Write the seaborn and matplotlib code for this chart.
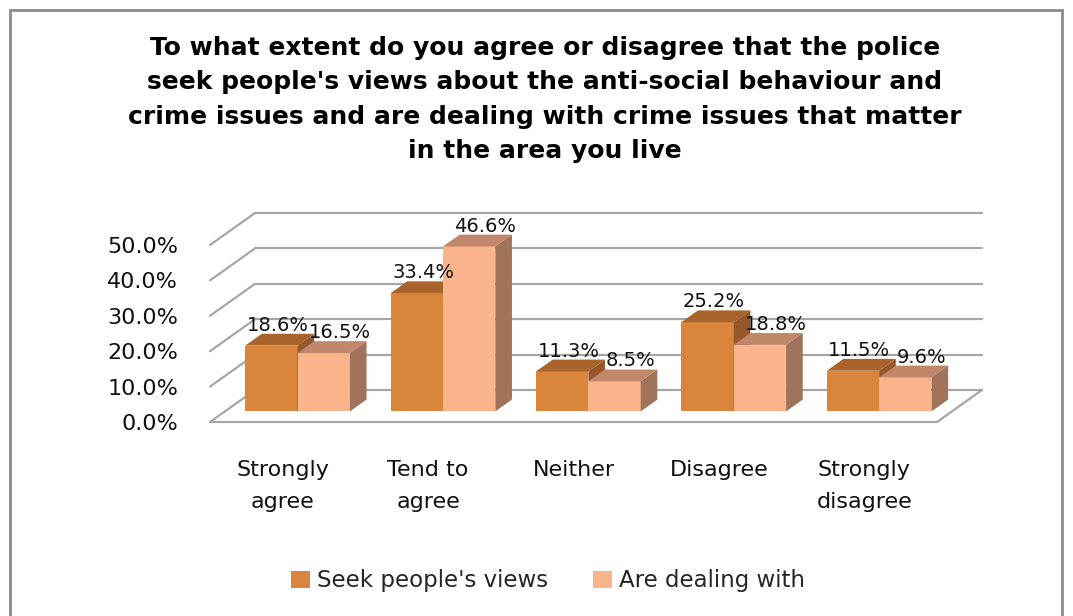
import matplotlib
matplotlib.use("Agg")
import matplotlib.pyplot as plt
import numpy as np
import pandas as pd
import seaborn as sns
from matplotlib.transforms import Affine2D, IdentityTransform
from matplotlib.patches import Polygon, Rectangle, Patch
from matplotlib.lines import Line2D

# ---------------- data ----------------
categories = ["Strongly\nagree", "Tend to\nagree", "Neither", "Disagree", "Strongly\ndisagree"]
series_names = ["Seek people's views", "Are dealing with"]
seek_views = [18.6, 33.4, 11.3, 25.2, 11.5]
dealing_with = [16.5, 46.6, 8.5, 18.8, 9.6]
y_ticks = [0, 10, 20, 30, 40, 50]
title = ("To what extent do you agree or disagree that the police\n"
         "seek people's views about the anti-social behaviour and\n"
         "crime issues and are dealing with crime issues that matter\n"
         "in the area you live")

df = pd.DataFrame({
    "category": categories * 2,
    "series": [series_names[0]] * len(categories) + [series_names[1]] * len(categories),
    "value": seek_views + dealing_with,
})

# ---------------- style ----------------
sns.set_theme(style="white")
plt.rcParams["font.family"] = ["DejaVu Sans"]

front_cols = ["#DA853C", "#F9B48C"]
top_cols = ["#A8642B", "#C0876A"]
side_cols = ["#96582A", "#A0735A"]
grid_col = "#A6A6A6"
label_dx = [-2, 8]   # horizontal label nudge per series (pixels)

W, H = 1073, 616
fig = plt.figure(figsize=(W / 100, H / 100), dpi=100)
# axes = front plane of the 3-D box
ax = fig.add_axes([210 / W, (H - 422) / H, (937 - 210) / W, 177 / H])

sns.barplot(data=df, x="category", y="value", hue="series", palette=front_cols,
            width=0.72, saturation=1, ax=ax, legend=False, linewidth=0, zorder=3)
ax.set_xlim(-0.5, 4.5)
ax.set_ylim(0, 50)
ax.set_autoscale_on(False)

DX, DY = 45.0, 32.0          # depth vector in pixels
d0, d1 = 0.33, 0.70          # bar depth range


def shifted(d):
    return ax.transData + Affine2D().translate(d * DX, d * DY)


def pt(x, y, d):
    return shifted(d).transform((x, y))


# back wall grid lines and left wall diagonals
for t in y_ticks:
    ax.add_artist(Line2D([-0.5, 4.5], [t, t], transform=shifted(1.0), color=grid_col,
                         lw=1.6, zorder=1, clip_on=False))
    a, b = pt(-0.5, t, 0.0), pt(-0.5, t, 1.0)
    ax.add_artist(Line2D([a[0], b[0]], [a[1], b[1]], transform=IdentityTransform(),
                         color=grid_col, lw=1.6, zorder=1, clip_on=False))
# floor front and right edges
fl, fr = pt(-0.5, 0, 0.0), pt(4.5, 0, 0.0)
br = pt(4.5, 0, 1.0)
ax.add_artist(Line2D([fl[0], fr[0], br[0]], [fl[1], fr[1], br[1]],
                     transform=IdentityTransform(), color=grid_col, lw=1.6,
                     zorder=1, clip_on=False))

# 3-D faces of bars
n = len(categories)
for i, p in enumerate(ax.patches[:2 * n]):
    s = i // n
    z = 3 + s
    x0, w, h = p.get_x(), p.get_width(), p.get_height()
    p.set_transform(shifted(d0))
    p.set_zorder(z)
    p.set_clip_on(False)
    top = [pt(x0, h, d0), pt(x0 + w, h, d0), pt(x0 + w, h, d1), pt(x0, h, d1)]
    side = [pt(x0 + w, 0, d0), pt(x0 + w, h, d0), pt(x0 + w, h, d1), pt(x0 + w, 0, d1)]
    ax.add_artist(Polygon(top, closed=True, transform=IdentityTransform(),
                          facecolor=top_cols[s], edgecolor="none", zorder=z, clip_on=False))
    ax.add_artist(Polygon(side, closed=True, transform=IdentityTransform(),
                          facecolor=side_cols[s], edgecolor="none", zorder=z, clip_on=False))
    ax.annotate(f"{h:.1f}%", xy=(x0 + w / 2, h), xycoords=shifted((d0 + d1) / 2),
                xytext=(label_dx[s], 5), textcoords="offset pixels", ha="center",
                va="bottom", fontsize=14, color="#111111", zorder=10,
                annotation_clip=False)

# axes decoration
for sp in ax.spines.values():
    sp.set_visible(False)
ax.set_xlabel("")
ax.set_ylabel("")
ax.set_yticks(y_ticks)
ax.set_yticklabels([f"{t:.1f}%" for t in y_ticks], fontsize=16, color="#111111")
ax.tick_params(axis="y", length=0, pad=23)
ax.tick_params(axis="x", length=0, pad=27, labelsize=16, labelcolor="#111111")
for lab in ax.get_xticklabels():
    lab.set_linespacing(1.8)
ax.grid(False)
ax.set_facecolor("none")

# title
fig.text(545 / W, 1 - 36 / H, title, ha="center", va="top", fontsize=18,
         fontweight="bold", linespacing=1.55, color="#000000")

# legend
handles = [Patch(facecolor=c, edgecolor="none") for c in front_cols]
fig.legend(handles, series_names, loc="center", bbox_to_anchor=(548 / W, 1 - 581 / H),
           ncol=2, frameon=False, fontsize=16.5, handlelength=0.8, handleheight=0.8,
           handletextpad=0.3, columnspacing=2.0)

# chart border
fig.patches.append(Rectangle((10 / W, -0.05), (1062 - 10) / W, 1.05 - 10 / H,
                             transform=fig.transFigure, fill=False,
                             edgecolor="#8C8C8C", lw=2))

fig.savefig("out.png", dpi=100)
